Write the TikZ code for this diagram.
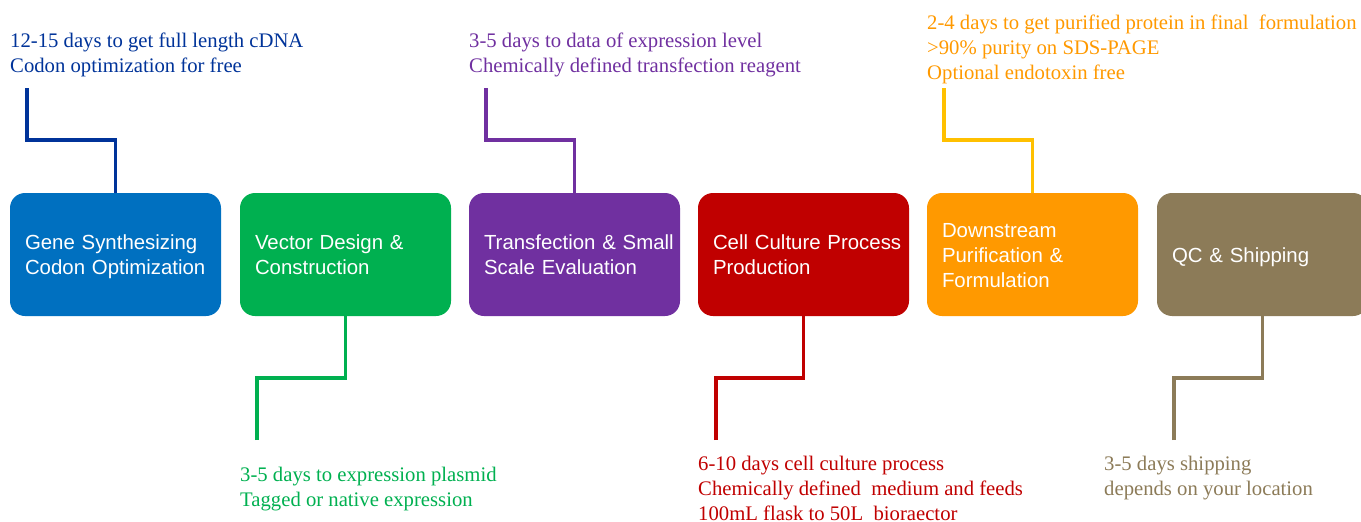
\documentclass[tikz,border=0pt]{standalone}
\usepackage{fontspec}
\setmainfont{Liberation Serif}
\newfontfamily\boxfont{Liberation Sans}
\definecolor{cblue}{HTML}{0070C0}
\definecolor{cnavy}{HTML}{003399}
\definecolor{cgreen}{HTML}{00B050}
\definecolor{cpurple}{HTML}{7030A0}
\definecolor{cred}{HTML}{C00000}
\definecolor{corange}{HTML}{FF9900}
\definecolor{cyellow}{HTML}{FFC000}
\definecolor{cbrown}{HTML}{8C7B58}
\begin{document}
\begin{tikzpicture}[x=1pt,y=-1pt,
  stage/.style={rounded corners=15pt, minimum width=211pt, minimum height=123pt,
    text width=211pt, align=left, inner sep=0pt, text=white,
    font=\boxfont\fontsize{20.4}{25}\selectfont,
    execute at begin node={\leftskip=15pt\hyphenpenalty=10000\rule{0pt}{20pt}},
    execute at end node=\rule[-4.5pt]{0pt}{4.5pt}},
  note/.style={anchor=north west, inner sep=0pt, align=left,
    font=\fontsize{20.7}{25}\selectfont,
    execute at begin node=\rule{0pt}{15pt}},
  link/.style={line width=3.5pt}
]
\useasboundingbox (0,0) rectangle (1361,522);
\clip (0,0) rectangle (1361,522);

% stages
\node[stage, fill=cblue]   (s1) at (115.5,254.5) {Gene Synthesizing\\Codon Optimization};
\node[stage, fill=cgreen]  (s2) at (345.5,254.5) {Vector Design \&\\Construction};
\node[stage, fill=cpurple] (s3) at (574.5,254.5) {Transfection \& Small\\Scale Evaluation};
\node[stage, fill=cred]    (s4) at (803.5,254.5) {Cell Culture Process\\Production};
\node[stage, fill=corange] (s5) at (1032.5,254.5) {Downstream\\Purification \&\\Formulation};
\node[stage, fill=cbrown]  (s6) at (1262.5,254.5) {QC \& Shipping};

% notes
\node[note, text=cnavy]   (n1) at (10,33)  {12-15 days to get full length cDNA\\Codon optimization for free};
\node[note, text=cgreen]  (n2) at (240,467) {3-5 days to expression plasmid\\Tagged or native expression};
\node[note, text=cpurple] (n3) at (469,33) {3-5 days to data of expression level\\Chemically defined transfection reagent};
\node[note, text=cred]    (n4) at (698,456) {6-10 days cell culture process\\Chemically defined~ medium and feeds\\100mL flask to 50L~ bioraector};
\node[note, text=corange] (n5) at (927,15) {2-4 days to get purified protein in final~ formulation\\>90\% purity on SDS-PAGE\\Optional endotoxin free};
\node[note, text=cbrown]  (n6) at (1104,456) {3-5 days shipping\\depends on your location};

% connector ends
\coordinate (e1) at (27,88);
\coordinate (e2) at (257,440);
\coordinate (e3) at (486,88);
\coordinate (e4) at (716,440);
\coordinate (e5) at (944,88);
\coordinate (e6) at (1174,440);

\draw[link, cnavy]   (e1) -- (e1 |- 0,140) -| (s1.north);
\draw[link, cgreen]  (e2) -- (e2 |- 0,378) -| (s2.south);
\draw[link, cpurple] (e3) -- (e3 |- 0,140) -| (s3.north);
\draw[link, cred]    (e4) -- (e4 |- 0,378) -| (s4.south);
\draw[link, cyellow] (e5) -- (e5 |- 0,140) -| (s5.north);
\draw[link, cbrown]  (e6) -- (e6 |- 0,378) -| (s6.south);
\end{tikzpicture}
\end{document}
